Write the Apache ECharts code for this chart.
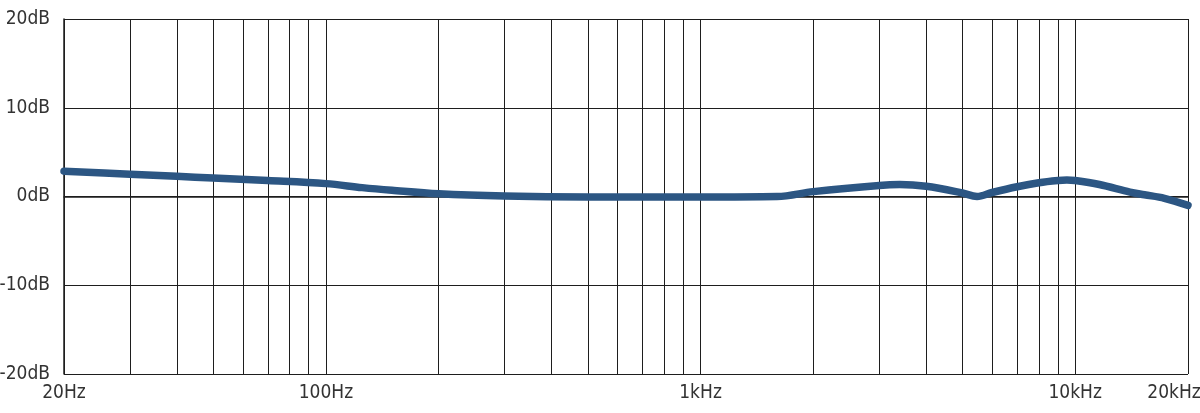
<!DOCTYPE html>
<html>
<head>
<meta charset="utf-8">
<script src="https://cdn.jsdelivr.net/npm/echarts@6/dist/echarts.min.js"></script>
<style>
html,body{margin:0;padding:0;background:#fff;}
#chart{width:1200px;height:413px;}
</style>
</head>
<body>
<div id="chart"></div>
<script>
// Frequency response data (Hz, dB)
const freqs = [20, 30, 40, 50, 70, 100, 125, 150, 200, 300, 500, 1000, 1600, 2000, 3000, 3400, 4000, 5000, 5470, 6000, 7000, 8000, 9000, 9500, 10000, 11600, 14000, 15300, 17300, 20000];
const levels = [2.85, 2.5, 2.28, 2.08, 1.8, 1.45, 1.0, 0.7, 0.3, 0.05, -0.05, -0.05, 0.0, 0.55, 1.25, 1.35, 1.15, 0.4, 0.0, 0.45, 1.1, 1.55, 1.8, 1.85, 1.8, 1.35, 0.5, 0.2, -0.2, -1.0];

// Axis ticks and labels
const xTickValues = [20, 100, 1000, 10000, 20000];
const xTickLabels = ['20Hz', '100Hz', '1kHz', '10kHz', '20kHz'];
const yTickValues = [-20, -10, 0, 10, 20];
const yTickLabels = ['-20dB', '-10dB', '0dB', '10dB', '20dB'];
// Minor vertical grid lines
const gridFreqs = [30, 40, 50, 60, 70, 80, 90, 200, 300, 400, 500, 600, 700, 800, 900, 2000, 3000, 4000, 5000, 6000, 7000, 8000, 9000, 20, 20000];

const chart = echarts.init(document.getElementById('chart'), null, {renderer: 'canvas'});
const fontFamily = '"DejaVu Sans Condensed", "Liberation Sans Narrow", sans-serif';
const fontSize = 19;
const textColor = '#333';
const gridColor = '#1e1e1e';

function xLabel(v) {
  let best = -1, bd = Infinity;
  xTickValues.forEach((t, i) => { const d = Math.abs(Math.log10(v) - Math.log10(t)); if (d < bd) { bd = d; best = i; } });
  if (bd > 0.01) return '';
  if (xTickValues[best] === 20000) return '{r|' + xTickLabels[best] + '}';
  return xTickLabels[best];
}
function yLabel(v) {
  const i = yTickValues.indexOf(Math.round(v));
  return i >= 0 ? yTickLabels[i] : '';
}

chart.setOption({
  animation: false,
  backgroundColor: '#ffffff',
  grid: {left: 64, right: 12, top: 19, bottom: 39, containLabel: false, outerBoundsMode: 'none'},
  xAxis: {
    type: 'log', logBase: 10, min: 20, max: 20000,
    axisLine: {show: true, lineStyle: {color: gridColor, width: 1.5}},
    axisTick: {show: false},
    splitLine: {show: true, lineStyle: {color: gridColor, width: 1}},
    axisLabel: {
      show: true, margin: 10, color: textColor, fontSize: fontSize, fontFamily: fontFamily,
      showMinLabel: true, showMaxLabel: true, hideOverlap: false,
      formatter: xLabel,
      rich: {r: {fontSize: fontSize, fontFamily: fontFamily, color: textColor, padding: [0, 28, 0, 0]}}
    }
  },
  yAxis: {
    type: 'value', min: -20, max: 20, interval: 10,
    axisLine: {show: true, lineStyle: {color: gridColor, width: 1.5}},
    axisTick: {show: false},
    splitLine: {show: true, lineStyle: {color: gridColor, width: 1}},
    axisLabel: {margin: 14, color: textColor, fontSize: fontSize, fontFamily: fontFamily, formatter: yLabel}
  },
  series: [
    {
      type: 'line', data: [], z: 1, silent: true,
      markLine: {
        silent: true, symbol: ['none', 'none'], label: {show: false},
        lineStyle: {color: gridColor, width: 1, type: 'solid'},
        emphasis: {disabled: true},
        data: gridFreqs.map(f => ({xAxis: f}))
      }
    },
    {
      type: 'line', z: 10,
      data: freqs.map((f, i) => [f, levels[i]]),
      smooth: 0.35, showSymbol: false, symbol: 'none',
      lineStyle: {color: '#2c5683', width: 7.5, cap: 'round', join: 'round'},
      itemStyle: {color: '#2c5683'}
    }
  ]
});
</script>
</body>
</html>
